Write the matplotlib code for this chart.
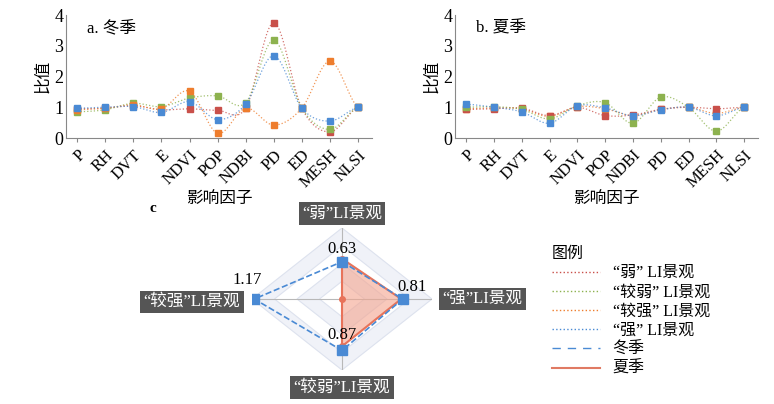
import numpy as np
import matplotlib
matplotlib.use("Agg")
import matplotlib.pyplot as plt
from matplotlib.lines import Line2D

plt.rcParams['font.family'] = ['Liberation Serif', 'Noto Sans CJK SC']

factors = ["P", "RH", "DVT", "E", "NDVI", "POP", "NDBI", "PD", "ED", "MESH", "NLSI"]
w_weak = [0.95, 0.97, 1.05, 0.92, 0.95, 0.90, 0.97, 3.75, 0.97, 0.20, 1.0]
w_lweak = [0.85, 0.92, 1.13, 1.02, 1.30, 1.37, 1.15, 3.18, 0.97, 0.28, 1.0]
w_lstrong = [0.92, 0.97, 1.08, 0.95, 1.52, 0.15, 0.97, 0.42, 0.97, 2.50, 1.0]
w_strong = [0.97, 1.00, 1.02, 0.83, 1.18, 0.60, 1.10, 2.68, 0.97, 0.55, 1.0]
s_weak = [0.93, 0.95, 0.97, 0.73, 1.00, 0.73, 0.75, 0.93, 1.00, 0.95, 1.0]
s_lweak = [1.00, 1.02, 0.93, 0.62, 1.05, 1.15, 0.48, 1.33, 1.00, 0.22, 1.0]
s_lstrong = [0.95, 0.98, 0.95, 0.70, 1.02, 0.95, 0.73, 0.93, 1.00, 0.80, 1.0]
s_strong = [1.10, 1.00, 0.85, 0.48, 1.05, 0.98, 0.72, 0.92, 1.00, 0.72, 1.0]

radar_labels = ["“弱”LI景观", "“强”LI景观", "“较弱”LI景观", "“较强”LI景观"]
radar_winter = [0.63, 0.81, 0.87, 1.17]
radar_summer = [0.68, 0.79, 0.80, 0.0]

cols = {"weak": "#c9504a", "lweak": "#8db24f", "lstrong": "#ee7d2d", "strong": "#4a8ad4"}

def smooth(y, n=20):
    y = np.asarray(y, float)
    p = np.concatenate([[y[0]], y, [y[-1]]])
    xs, ys = [], []
    for i in range(len(y) - 1):
        p0, p1, p2, p3 = p[i], p[i + 1], p[i + 2], p[i + 3]
        t = np.linspace(0, 1, n, endpoint=False)
        v = 0.5 * ((2 * p1) + (-p0 + p2) * t + (2 * p0 - 5 * p1 + 4 * p2 - p3) * t**2 + (-p0 + 3 * p1 - 3 * p2 + p3) * t**3)
        xs.append(i + t); ys.append(v)
    xs.append([len(y) - 1]); ys.append([y[-1]])
    return np.concatenate(xs), np.concatenate(ys)

fig = plt.figure(figsize=(7.74, 4.04), dpi=100)

def line_panel(rect, series, title):
    ax = fig.add_axes(rect)
    x = np.arange(len(factors))
    for vals, c in series:
        sx, sy = smooth(vals)
        ax.plot(sx, sy, ':', color=c, lw=0.9, alpha=0.8)
        ax.plot(x, vals, 's', color=c, ms=4.5, ls='none')
    ax.set_xlim(-0.4, len(factors) - 0.5)
    ax.set_ylim(0, 4)
    ax.set_yticks([0, 1, 2, 3, 4])
    ax.set_xticks(x)
    ax.set_xticklabels(factors, rotation=45, ha='right', rotation_mode='anchor', fontsize=12)
    ax.tick_params(axis='y', labelsize=13, length=0, pad=2)
    ax.tick_params(axis='x', length=3, color='#888888')
    for s in ['top', 'right']:
        ax.spines[s].set_visible(False)
    for s in ['left', 'bottom']:
        ax.spines[s].set_color('#888888')
    ax.set_ylabel("比值", fontsize=12, labelpad=2)
    ax.set_xlabel("影响因子", fontsize=12, labelpad=0)
    ax.text(0.07, 0.96, title, transform=ax.transAxes, fontsize=12, va='top')
    return ax

line_panel([66/774, 1 - 138/404, 306/774, 123/404],
           [(w_weak, cols["weak"]), (w_lweak, cols["lweak"]), (w_lstrong, cols["lstrong"]), (w_strong, cols["strong"])], "a. 冬季")
line_panel([455/774, 1 - 138/404, 303/774, 123/404],
           [(s_lstrong, cols["lstrong"]), (s_weak, cols["weak"]), (s_lweak, cols["lweak"]), (s_strong, cols["strong"])], "b. 夏季")

# radar
R = 1.2
ax = fig.add_axes([252/774, 1 - 370/404, 180/774, 142/404])
ax.set_xlim(-R, R); ax.set_ylim(-R, R); ax.axis('off')
dirs = np.array([[0, 1], [1, 0], [0, -1], [-1, 0]], float)
rings = [0.3, 0.6, 0.9, 1.2]
for i, r in enumerate(rings[::-1]):
    pts = dirs * r
    ax.fill(pts[:, 0], pts[:, 1], color='#f0f2f8' if i % 2 == 0 else 'white', ec='#dde2ee', lw=0.8, zorder=1)
for d in dirs:
    ax.plot([0, d[0] * R], [0, d[1] * R], color='#b8b8b8', lw=0.8, zorder=2)
sw = np.array(radar_summer)[:, None] * dirs
ax.fill(sw[:, 0], sw[:, 1], color='#f4a48e', alpha=0.6, zorder=3)
ax.plot(np.append(sw[:, 0], sw[0, 0]), np.append(sw[:, 1], sw[0, 1]), color='#e8735a', lw=1.5, zorder=4)
ax.plot(sw[:, 0], sw[:, 1], 'o', color='#e8735a', ms=4, zorder=4)
wp = np.array(radar_winter)[:, None] * dirs
ax.plot(np.append(wp[:, 0], wp[0, 0]), np.append(wp[:, 1], wp[0, 1]), '--', color='#4a8ad4', lw=1.2, zorder=5)
ax.plot(wp[:, 0], wp[:, 1], 's', color='#4a8ad4', ms=7, zorder=6)
offs = [(0, 0.22), (0.12, 0.2), (0, 0.26), (-0.1, 0.32)]
for (px, py), v, (ox, oy) in zip(wp, radar_winter, offs):
    ax.text(px + ox, py + oy, f"{v:.2f}", fontsize=12, ha='center', va='center', zorder=7, clip_on=False)
lab_pos = [(0, 1.45), (1.87, 0), (0, -1.5), (-2.0, -0.05)]
for (lx, ly), t in zip(lab_pos, radar_labels):
    ax.text(lx, ly, t, fontsize=12, color='white', ha='center', va='center', clip_on=False,
            bbox=dict(boxstyle='square,pad=0.2', fc='#555555', ec='none'))
fig.text(150/774, 1 - 209/404, "c", fontsize=11, fontweight='bold', va='center')

handles = [Line2D([], [], ls=':', color=cols["weak"], lw=1),
           Line2D([], [], ls=':', color=cols["lweak"], lw=1),
           Line2D([], [], ls=':', color=cols["lstrong"], lw=1),
           Line2D([], [], ls=':', color=cols["strong"], lw=1),
           Line2D([], [], ls=(0, (6, 5)), color='#4a8ad4', lw=1),
           Line2D([], [], ls='-', color='#e07a63', lw=1.5)]
labels = ["“弱” LI景观", "“较弱” LI景观", "“较强” LI景观", "“强” LI景观", "冬季", "夏季"]
leg = fig.legend(handles, labels, title="图例", loc='upper left', bbox_to_anchor=(544/774, 1 - 238/404),
                 frameon=False, fontsize=11.5, title_fontsize=11.5, handlelength=3.0, labelspacing=0.2,
                 borderpad=0, handletextpad=0.8)
leg._legend_box.align = "left"
fig.savefig("out.png", dpi=100)
